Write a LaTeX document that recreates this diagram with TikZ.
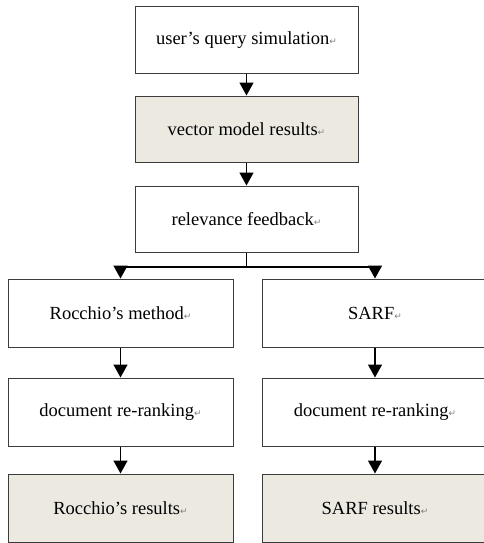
\documentclass[tikz,border=0pt]{standalone}
\usepackage{fontspec}
\setmainfont{Liberation Serif}
\newfontfamily\symfont{DejaVu Sans}
\usetikzlibrary{arrows.meta}
\definecolor{boxfill}{RGB}{236,233,224}
\definecolor{boxline}{RGB}{60,60,60}
\newcommand{\pmark}{{\symfont\fontsize{9}{9}\selectfont\color{gray}↵}}
\tikzset{
  flowbox/.style={draw=boxline, line width=1pt, minimum height=66pt, inner sep=0pt, font=\fontsize{18.5}{20}\selectfont},
  shaded/.style={flowbox, fill=boxfill},
  flowarrow/.style={line width=1.5pt, -{Triangle[width=14pt,length=13pt]}},
  flowline/.style={line width=1.5pt}
}
\begin{document}
\begin{tikzpicture}[x=1pt,y=-1pt]
\useasboundingbox (0,0) rectangle (484,543);
\clip (0,0) rectangle (484,543);
\node[flowbox, minimum width=223pt] (q) at (246.5,40) {user’s query simulation\pmark};
\node[shaded, minimum width=223pt] (v) at (246.5,129) {vector model results\pmark};
\node[flowbox, minimum width=223pt] (r) at (246.5,219) {relevance feedback\pmark};
\node[flowbox, minimum width=225pt, minimum height=68pt] (rm) at (120.5,313) {Rocchio’s method\pmark};
\node[flowbox, minimum width=226pt, minimum height=68pt] (sm) at (375,313) {SARF\pmark};
\node[flowbox, minimum width=225pt, minimum height=68pt] (rd) at (120.5,412) {document re-ranking\pmark};
\node[flowbox, minimum width=226pt, minimum height=68pt] (sd) at (375,412) {document re-ranking\pmark};
\node[shaded, minimum width=225pt, minimum height=68pt] (rr) at (120.5,508) {Rocchio’s results\pmark};
\node[shaded, minimum width=226pt, minimum height=68pt] (sr) at (375,508) {SARF results\pmark};
\coordinate (j) at (246.5,267);
\draw[flowarrow] (q) -- (v);
\draw[flowarrow] (v) -- (r);
\draw[flowline] (r.south) -- (j);
\draw[flowarrow] (j) -| (rm.north);
\draw[flowarrow] (j) -| (sm.north);
\draw[flowarrow] (rm) -- (rd);
\draw[flowarrow] (rd) -- (rr);
\draw[flowarrow] (sm) -- (sd);
\draw[flowarrow] (sd) -- (sr);
\end{tikzpicture}
\end{document}
